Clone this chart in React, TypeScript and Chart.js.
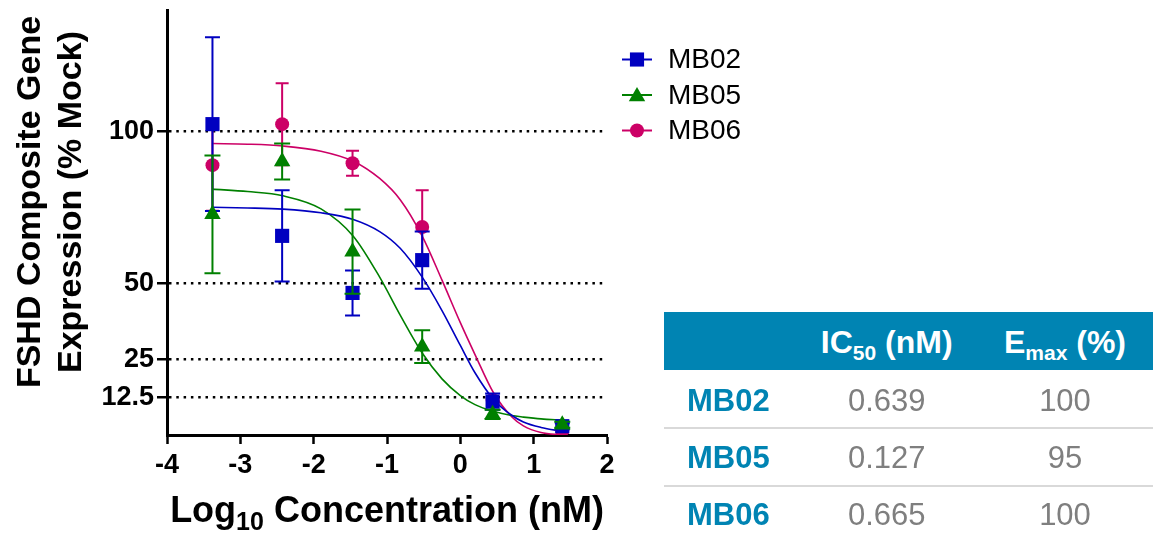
import React, { useEffect, useRef } from 'react';
import { Chart, registerables } from 'chart.js';

Chart.register(...registerables);

// ---------- data ----------
const seriesNames = ['MB02', 'MB05', 'MB06'];
const seriesColors = ['#0000C0', '#008000', '#CC0066'];
const seriesPointStyles = ['rect', 'triangle', 'circle'];

const logConc = [-3.38, -2.43, -1.47, -0.52, 0.44, 1.39];
const mb02Mean = [102.4, 65.6, 46.8, 57.6, 11.0, 2.9];
const mb02Err = [28.6, 15.0, 7.4, 9.4, 2.7, 1.0];
const mb05Mean = [72.7, 90.1, 60.4, 29.1, 6.8, 3.4];
const mb05Err = [19.4, 5.9, 13.9, 5.4, 1.5, 1.0];
const mb06Mean = [88.9, 102.4, 89.5, 68.5, 11.5, 1.5];
const mb06Err = [15.0, 13.5, 4.1, 12.1, 1.0, 0.8];

const curveX = [-3.38, -2.9, -2.42, -1.9, -1.46, -1.1, -0.82, -0.52, -0.25, 0, 0.2, 0.45, 0.7, 0.86, 1.1, 1.39];
const mb02Curve = [75.0, 74.8, 74.4, 73.2, 71.0, 67.0, 61.5, 52.0, 41.0, 29.5, 20.5, 11.8, 6.5, 4.3, 2.5, 1.2];
const mb05Curve = [81.0, 80.2, 78.8, 74.5, 65.5, 52.0, 39.5, 27.0, 18.5, 13.0, 10.0, 7.8, 6.4, 5.9, 5.3, 4.9];
const mb06Curve = [96.0, 95.8, 95.2, 93.5, 90.2, 84.5, 77.5, 65.5, 51.0, 37.0, 26.5, 14.0, 6.0, 3.0, 0.8, 0.0];

const xTicks = [-4, -3, -2, -1, 0, 1, 2];
const yTicks = [12.5, 25, 50, 100];

const yTitleLines = ['FSHD Composite Gene', 'Expression (% Mock)'];
const xTitleParts = ['Log', '10', ' Concentration (nM)'];

const tableRows = ['MB02', 'MB05', 'MB06'];
const ic50Values = ['0.639', '0.127', '0.665'];
const emaxValues = ['100', '95', '100'];

// ---------- styles ----------
const FONT = '"Liberation Sans", Arial, Helvetica, sans-serif';
const TEAL = '#0084B3';
const GRAY = '#7F7F7F';

const means = [mb02Mean, mb05Mean, mb06Mean];
const errs = [mb02Err, mb05Err, mb06Err];
const curves = [mb02Curve, mb05Curve, mb06Curve];
const drawOrder = [1, 0, 2]; // MB05 on top, then MB02, MB06 at bottom
const pointRadii = [10, 9.5, 7];
const capHalf = [7.5, 8, 6.5];

function drawMarker(ctx: CanvasRenderingContext2D, style: string, x: number, y: number, r: number, color: string) {
  ctx.save();
  ctx.fillStyle = color;
  ctx.beginPath();
  if (style === 'rect') {
    const s = Math.SQRT1_2 * r;
    ctx.rect(x - s, y - s, 2 * s, 2 * s);
  } else if (style === 'triangle') {
    for (let k = 0; k < 3; k++) {
      const a = (k * 2 * Math.PI) / 3;
      const px = x + Math.sin(a) * r;
      const py = y - Math.cos(a) * r;
      if (k === 0) ctx.moveTo(px, py);
      else ctx.lineTo(px, py);
    }
    ctx.closePath();
  } else {
    ctx.arc(x, y, r, 0, Math.PI * 2);
  }
  ctx.fill();
  ctx.restore();
}

const errorBarPlugin = {
  id: 'errorBars',
  beforeDatasetDraw(chart: any, args: any) {
    const ds = chart.data.datasets[args.index];
    if (!ds.errors) return;
    const ctx: CanvasRenderingContext2D = chart.ctx;
    const xs = chart.scales.x;
    const ys = chart.scales.y;
    ctx.save();
    ctx.strokeStyle = ds.borderColor;
    ctx.lineWidth = 2;
    ds.data.forEach((pt: any, i: number) => {
      const e = ds.errors[i];
      const px = xs.getPixelForValue(pt.x);
      const top = ys.getPixelForValue(pt.y + e);
      const bot = ys.getPixelForValue(pt.y - e);
      ctx.beginPath();
      ctx.moveTo(px, top);
      ctx.lineTo(px, bot);
      ctx.moveTo(px - ds.capHalf, top);
      ctx.lineTo(px + ds.capHalf, top);
      ctx.moveTo(px - ds.capHalf, bot);
      ctx.lineTo(px + ds.capHalf, bot);
      ctx.stroke();
    });
    ctx.restore();
  },
};

const decorPlugin = {
  id: 'decor',
  afterDraw(chart: any) {
    const ctx: CanvasRenderingContext2D = chart.ctx;
    const area = chart.chartArea;
    ctx.save();
    ctx.fillStyle = '#000';

    // y title (rotated, two lines)
    ctx.font = `bold 34px ${FONT}`;
    ctx.textAlign = 'center';
    ctx.textBaseline = 'alphabetic';
    const yBase = [40, 81];
    yTitleLines.forEach((line, i) => {
      ctx.save();
      ctx.translate(yBase[i], 202);
      ctx.rotate(-Math.PI / 2);
      ctx.fillText(line, 0, 0);
      ctx.restore();
    });

    // x title with subscript
    const mainFont = `bold 36px ${FONT}`;
    const subFont = `bold 25px ${FONT}`;
    ctx.textAlign = 'left';
    ctx.font = mainFont;
    const w1 = ctx.measureText(xTitleParts[0]).width;
    const w3 = ctx.measureText(xTitleParts[2]).width;
    ctx.font = subFont;
    const w2 = ctx.measureText(xTitleParts[1]).width;
    const cx = (area.left + area.right) / 2;
    let sx = cx - (w1 + w2 + w3) / 2;
    const base = 521.5;
    ctx.font = mainFont;
    ctx.fillText(xTitleParts[0], sx, base);
    sx += w1;
    ctx.font = subFont;
    ctx.fillText(xTitleParts[1], sx, base + 8.5);
    sx += w2;
    ctx.font = mainFont;
    ctx.fillText(xTitleParts[2], sx, base);

    // legend
    const legendY = [59.5, 95, 130.5];
    seriesNames.forEach((name, i) => {
      const y = legendY[i];
      ctx.strokeStyle = seriesColors[i];
      ctx.lineWidth = 2;
      ctx.beginPath();
      ctx.moveTo(622, y);
      ctx.lineTo(652, y);
      ctx.stroke();
      drawMarker(ctx, seriesPointStyles[i], 637, y + (i === 1 ? 1.5 : 0), pointRadii[i], seriesColors[i]);
      ctx.fillStyle = '#000';
      ctx.font = `28px ${FONT}`;
      ctx.textBaseline = 'middle';
      ctx.textAlign = 'left';
      ctx.fillText(name, 668, y + 1);
    });
    ctx.restore();
  },
};

function buildConfig(): any {
  const datasets: any[] = [];
  drawOrder.forEach((si, k) => {
    datasets.push({
      label: seriesNames[si] + ' points',
      data: logConc.map((x, i) => ({ x, y: means[si][i] })),
      errors: errs[si],
      capHalf: capHalf[si],
      showLine: false,
      pointStyle: seriesPointStyles[si],
      pointRadius: pointRadii[si],
      pointBorderWidth: 0,
      backgroundColor: seriesColors[si],
      borderColor: seriesColors[si],
      order: k,
    });
  });
  seriesNames.forEach((name, si) => {
    datasets.push({
      label: name + ' fit',
      data: curveX.map((x, i) => ({ x, y: curves[si][i] })),
      showLine: true,
      pointRadius: 0,
      borderWidth: 1.6,
      borderColor: seriesColors[si],
      backgroundColor: seriesColors[si],
      cubicInterpolationMode: 'monotone',
      fill: false,
      order: 10 + si,
    });
  });

  return {
    type: 'scatter',
    data: { datasets },
    plugins: [errorBarPlugin, decorPlugin],
    options: {
      responsive: false,
      maintainAspectRatio: false,
      animation: false,
      events: [],
      layout: { padding: { left: 0, top: 8, right: 546, bottom: 0 } },
      plugins: { legend: { display: false }, tooltip: { enabled: false }, title: { display: false } },
      scales: {
        x: {
          type: 'linear',
          min: -4,
          max: 2,
          afterBuildTicks: (scale: any) => {
            scale.ticks = xTicks.map((v) => ({ value: v }));
          },
          afterFit: (scale: any) => {
            scale.height = 105;
            scale.paddingLeft = 0;
            scale.paddingRight = 0;
            scale.paddingTop = 0;
            scale.paddingBottom = 0;
          },
          ticks: {
            color: '#000',
            font: { family: FONT, size: 27, weight: 'bold' },
            padding: 5,
            maxRotation: 0,
            autoSkip: false,
            callback: (v: any) => String(v),
          },
          grid: {
            drawOnChartArea: false,
            drawTicks: true,
            tickLength: 9,
            tickWidth: 2.5,
            tickColor: '#000',
            color: '#000',
          },
          border: { display: true, color: '#000', width: 3 },
        },
        y: {
          type: 'linear',
          min: 0,
          max: 140,
          afterBuildTicks: (scale: any) => {
            scale.ticks = yTicks.map((v) => ({ value: v }));
          },
          afterFit: (scale: any) => {
            scale.width = 167;
            scale.paddingLeft = 0;
            scale.paddingRight = 0;
            scale.paddingTop = 0;
            scale.paddingBottom = 0;
          },
          ticks: {
            color: '#000',
            font: { family: FONT, size: 27, weight: 'bold' },
            padding: 3,
            autoSkip: false,
            callback: (v: any) => String(v),
          },
          grid: {
            drawOnChartArea: true,
            drawTicks: true,
            tickLength: 10,
            tickWidth: 2.5,
            tickColor: '#000',
            tickBorderDash: [],
            color: '#000',
            lineWidth: 2.5,
          },
          border: { display: true, color: '#000', width: 3, dash: [2.5, 4.8] },
        },
      },
    },
  };
}

function Table() {
  const hdrTop = 353.3 - 0.8465 * 32;
  const rowBase = [411.7, 468.3, 525.7];
  const common: React.CSSProperties = {
    position: 'absolute',
    whiteSpace: 'nowrap',
    fontFamily: FONT,
    margin: 0,
  };
  return (
    <>
      <div style={{ position: 'absolute', left: 664, top: 312, width: 489, height: 58, background: TEAL }} />
      <div
        style={{ ...common, left: 786.7, width: 200, top: hdrTop, fontSize: 32, lineHeight: '32px', fontWeight: 'bold', color: '#fff', textAlign: 'center' }}
      >
        IC<span style={{ fontSize: 21, lineHeight: '21px', position: 'relative', top: 7 }}>50</span> (nM)
      </div>
      <div
        style={{ ...common, left: 965, width: 200, top: hdrTop, fontSize: 32, lineHeight: '32px', fontWeight: 'bold', color: '#fff', textAlign: 'center' }}
      >
        E<span style={{ fontSize: 21, lineHeight: '21px', position: 'relative', top: 7 }}>max</span> (%)
      </div>
      {[427.3, 485].map((t) => (
        <div key={t} style={{ position: 'absolute', left: 664, top: t, width: 489, height: 2, background: '#D9D9D9' }} />
      ))}
      {tableRows.map((name, i) => {
        const top = rowBase[i] - 0.8465 * 31;
        return (
          <React.Fragment key={name}>
            <div style={{ ...common, left: 687, top, fontSize: 31, lineHeight: '31px', fontWeight: 'bold', color: TEAL }}>{name}</div>
            <div style={{ ...common, left: 786.7, width: 200, top, fontSize: 31, lineHeight: '31px', color: GRAY, textAlign: 'center' }}>
              {ic50Values[i]}
            </div>
            <div style={{ ...common, left: 965, width: 200, top, fontSize: 31, lineHeight: '31px', color: GRAY, textAlign: 'center' }}>
              {emaxValues[i]}
            </div>
          </React.Fragment>
        );
      })}
    </>
  );
}

export default function App() {
  const ref = useRef<HTMLCanvasElement>(null);
  useEffect(() => {
    const canvas = ref.current;
    if (!canvas) return;
    const chart = new Chart(canvas, buildConfig());
    return () => chart.destroy();
  }, []);
  return (
    <div style={{ position: 'fixed', left: 0, top: 0, width: 1153, height: 540, background: '#fff', overflow: 'hidden' }}>
      <canvas ref={ref} width={1153} height={540} style={{ position: 'absolute', left: 0, top: 0, width: 1153, height: 540 }} />
      <Table />
    </div>
  );
}
